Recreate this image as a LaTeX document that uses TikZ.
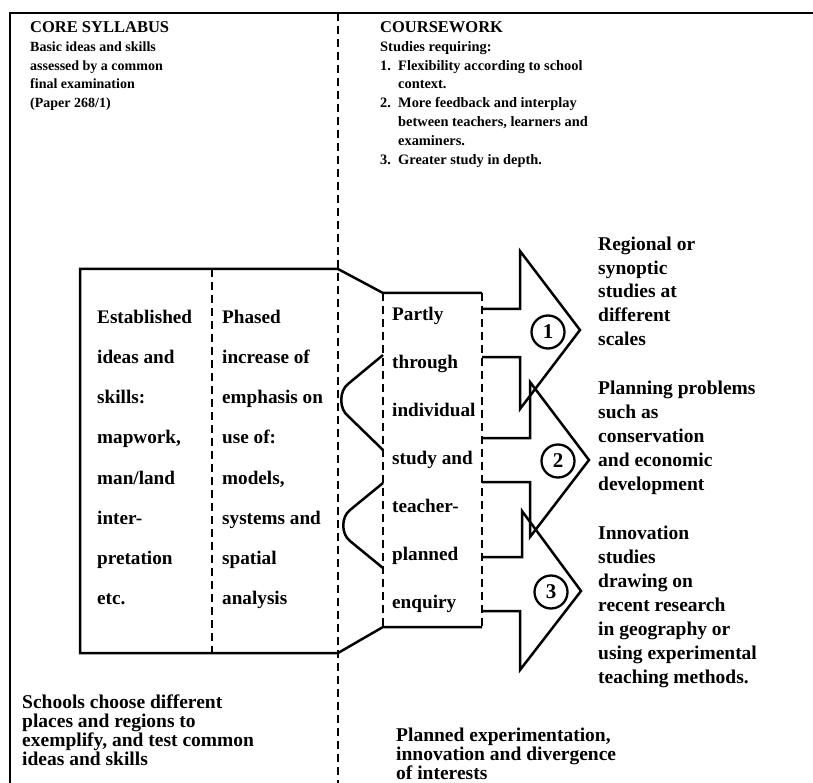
\documentclass[tikz,border=0pt]{standalone}
\usepackage{fontspec}
\setmainfont{Liberation Serif}[UprightFont=* Bold, BoldFont=* Bold]
\begin{document}
\begin{tikzpicture}[x=1pt,y=-1pt,
  solidln/.style={line width=2.5pt, line join=miter},
  dashln/.style={line width=2pt, dash pattern=on 8pt off 5pt},
  txt/.style={anchor=base west, inner sep=0pt},
  hdrl/.style={txt, font=\fontsize{14}{18}\selectfont},
  hdr/.style={txt, font=\fontsize{14.4}{18}\selectfont},
  hbold/.style={txt, font=\fontsize{16.5}{18}\selectfont},
  bx/.style={txt, font=\fontsize{19.2}{24}\selectfont},
  rt/.style={txt, font=\fontsize{19.5}{24}\selectfont},
  bt/.style={txt, font=\fontsize{19.5}{19.5}\selectfont},
  num/.style={circle, draw, line width=2.3pt, minimum size=33pt, inner sep=0pt, font=\fontsize{21}{21}\selectfont}]
\useasboundingbox (0,0) rectangle (813,783);

% outer frame and page divider
\draw[solidln] (10,783) -- (10,13) -- (813,13);
\draw[dashln] (338,13) -- (338,783);

% header left
\node[hbold, name=hl0] at (30,33) {CORE SYLLABUS};
\foreach \t [count=\i from 1] in {Basic ideas and skills, assessed by a common, final examination, (Paper 268/1)}
  \node[hdrl, name=hl\i] at (30,{32.5+18.8*\i}) {\t};

% header right
\node[hbold, name=hr0] at (380,33) {COURSEWORK};
\node[hdr, name=hr1] at (380,51.3) {Studies requiring:};
\node[hdr, name=n1] at (380,70.1) {1.};
\node[hdr, name=n2] at (380,107.7) {2.};
\node[hdr, name=n3] at (380,164.1) {3.};
\foreach \t [count=\i from 0] in {Flexibility according to school, context., More feedback and interplay, {between teachers, learners and}, examiners., Greater study in depth.}
  \node[hdr, name=hi\i] at (398,{70.1+18.8*\i}) {\t};

% main box
\draw[solidln] (482,293) -- (383,293) -- (338,269) -- (80,269) -- (80,653) -- (338,653) -- (383,627) -- (482,627);
\draw[dashln] (212,269) -- (212,653);
\draw[dashln] (383,293) -- (383,627);
\draw[dashln] (482,293) -- (482,627);

% column texts
\foreach \t [count=\i from 0] in {Established, ideas and, skills:, {mapwork,}, man/land, inter-, pretation, etc.}
  \node[bx, name=ca\i] at (97,{323.6+40.1*\i}) {\t};
\foreach \t [count=\i from 0] in {Phased, increase of, emphasis on, use of:, {models,}, systems and, spatial, analysis}
  \node[bx, name=cb\i] at (222,{323.6+40.1*\i}) {\t};
\foreach \t [count=\i from 0] in {Partly, through, individual, study and, teacher-, planned, enquiry}
  \node[bx, name=cc\i] at (392,{320.6+48*\i}) {\t};

% brackets
\draw[solidln, line join=round] (383,355) -- (348,384) .. controls (339,391) and (339,409) .. (348,416) -- (383,450);
\draw[solidln, line join=round] (383,483) -- (350,510) .. controls (341,517) and (341,534) .. (350,541) -- (383,568);

% arrows
\draw[solidln] (482,309) -- (520,309) -- (520,251) -- (580,330) -- (520,409) -- (520,357) -- (482,357);
\draw[solidln] (482,438) -- (530,438) -- (530,382) -- (589,460) -- (530,537) -- (530,482) -- (482,482);
\draw[solidln] (482,557) -- (522,557) -- (522,511) -- (581,591) -- (520,670) -- (520,611) -- (482,611);

\node[num, name=o1] at (548,332) {1};
\node[num, name=o2] at (558,461) {2};
\node[num, name=o3] at (551,592) {3};

% right texts
\foreach \t [count=\i from 0] in {Regional or, synoptic, studies at, different, scales}
  \node[rt, name=ra\i] at (598,{251+23.5*\i}) {\t};
\foreach \t [count=\i from 0] in {Planning problems, such as, conservation, and economic, development}
  \node[rt, name=rb\i] at (598,{394.6+24*\i}) {\t};
\foreach \t [count=\i from 0] in {Innovation, studies, drawing on, recent research, in geography or, using experimental, teaching methods.}
  \node[rt, name=rc\i] at (598,{539.6+24*\i}) {\t};

% bottom texts
\foreach \t [count=\i from 0] in {Schools choose different, places and regions to, {exemplify, and test common}, ideas and skills}
  \node[bt, name=bl\i] at (22,{708+19.3*\i}) {\t};
\foreach \t [count=\i from 0] in {{Planned experimentation,}, innovation and divergence, of interests}
  \node[bt, name=br\i] at (396,{741+19.3*\i}) {\t};
\end{tikzpicture}
\end{document}
